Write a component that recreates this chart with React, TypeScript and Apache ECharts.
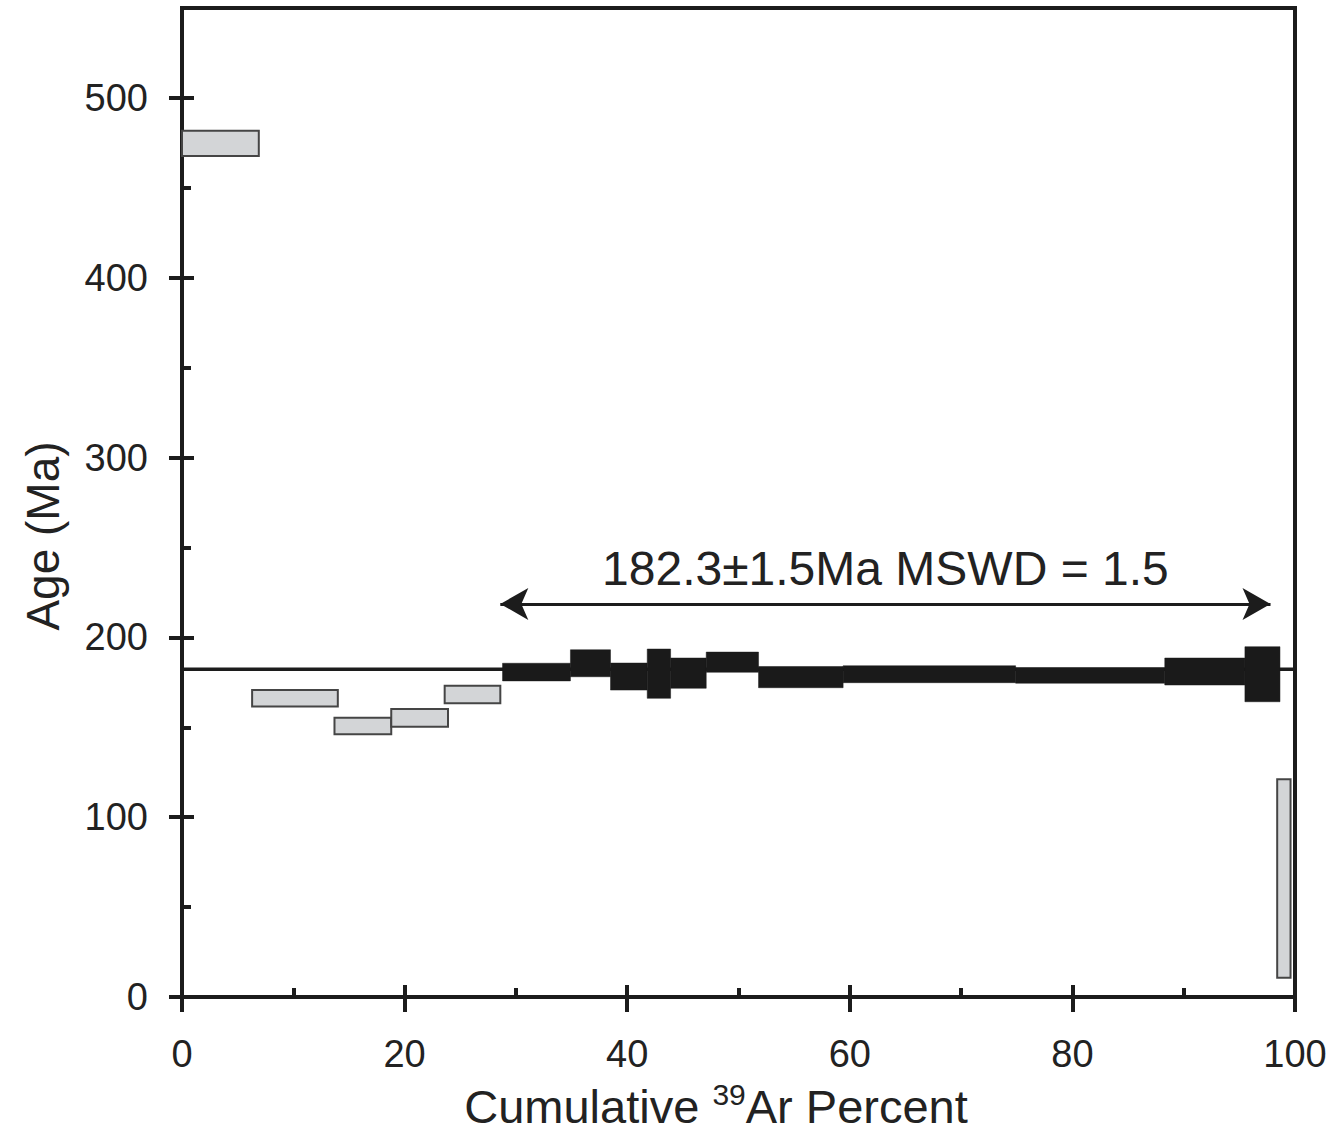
import React, { useEffect, useRef } from "react";
import * as echarts from "echarts";

// Step heating data (cumulative 39Ar %, age in Ma, half-height error)
const cumStart = [0, 6.3, 13.7, 18.8, 23.6, 28.8, 34.9, 38.5, 41.8, 43.9, 47.1, 51.8, 59.4, 74.9, 88.3, 95.5, 98.4];
const cumEnd = [6.9, 14.0, 18.8, 23.9, 28.6, 34.9, 38.5, 41.8, 43.9, 47.1, 51.8, 59.4, 74.9, 88.3, 95.5, 98.65, 99.6];
const ages = [474.7, 166.1, 150.7, 155.2, 168.2, 180.7, 185.6, 178.2, 179.8, 180.1, 186.2, 177.9, 179.5, 178.8, 181.0, 179.5, 65.9];
const errors = [7.0, 4.6, 4.6, 4.9, 4.9, 4.9, 7.5, 7.5, 13.7, 8.4, 5.6, 5.9, 4.7, 4.3, 7.5, 15.3, 55.2];
const inPlateau = [false, false, false, false, false, true, true, true, true, true, true, true, true, true, true, true, false];

const plateauAge = 182.3;
const arrowStart = 28.6;
const arrowEnd = 97.8;
const arrowAge = 218.6;
const plateauLabel = "182.3±1.5Ma MSWD = 1.5";

const yTicks = [0, 100, 200, 300, 400, 500];
const yMinorTicks = [50, 150, 250, 350, 450];
const xMax = 100;
const yMax = 550;

const FONT = "'Liberation Sans', Arial, Helvetica, sans-serif";
const INK = "#1c1c1c";

export default function App() {
  const ref = useRef<HTMLDivElement>(null);

  useEffect(() => {
    if (!ref.current) return;
    const chart = echarts.init(ref.current, undefined, { renderer: "svg" });

    const steps = cumStart.map((s, i) => [s, cumEnd[i], ages[i], errors[i]]);
    const grayData = steps.filter((_, i) => !inPlateau[i]);
    const blackData = steps.filter((_, i) => inPlateau[i]);

    const makeRender = (fill: string, stroke: string, lw: number) => (params: any, api: any) => {
      const x0 = api.value(0), x1 = api.value(1), age = api.value(2), err = api.value(3);
      const p0 = api.coord([x0, age + err]);
      const p1 = api.coord([x1, age - err]);
      return {
        type: "rect",
        shape: { x: p0[0], y: p0[1], width: p1[0] - p0[0], height: p1[1] - p0[1] },
        style: { fill, stroke, lineWidth: lw },
      };
    };

    const baseX = { type: "value", min: 0, max: xMax, interval: 20, position: "bottom", splitLine: { show: false } };
    const baseY = { type: "value", min: 0, max: yMax, position: "left", splitLine: { show: false } };

    chart.setOption({
      animation: false,
      backgroundColor: "#ffffff",
      grid: {
        left: 182,
        right: 35,
        top: 8,
        bottom: 136,
        show: true,
        borderColor: INK,
        borderWidth: 4,
      },
      xAxis: [
        {
          ...baseX,
          axisLine: { show: true, lineStyle: { color: INK, width: 4 } },
          axisTick: { show: true, inside: false, length: 15, lineStyle: { color: INK, width: 4 } },
          axisLabel: { show: true, fontSize: 38, fontFamily: FONT, color: "#222", margin: 38 },
        },
        {
          ...baseX,
          axisLine: { show: false },
          axisTick: { show: true, inside: true, length: 12, lineStyle: { color: INK, width: 4 } },
          minorTick: { show: true, splitNumber: 2, length: 9, lineStyle: { color: INK, width: 4 } },
          axisLabel: { show: false },
        },
      ],
      yAxis: [
        {
          ...baseY,
          axisLine: { show: true, lineStyle: { color: INK, width: 4 } },
          axisTick: { show: true, inside: false, length: 13, customValues: yTicks, lineStyle: { color: INK, width: 4 } },
          axisLabel: { show: true, customValues: yTicks, fontSize: 38, fontFamily: FONT, color: "#222", margin: 34 },
        },
        {
          ...baseY,
          axisLine: { show: false },
          axisTick: { show: true, inside: true, length: 12, customValues: yTicks, lineStyle: { color: INK, width: 4 } },
          axisLabel: { show: false },
        },
        {
          ...baseY,
          axisLine: { show: false },
          axisTick: { show: true, inside: true, length: 9, customValues: yMinorTicks, lineStyle: { color: INK, width: 4 } },
          axisLabel: { show: false },
        },
      ],
      graphic: [
        {
          type: "text",
          x: 43,
          y: 536,
          rotation: Math.PI / 2,
          style: {
            text: "Age (Ma)",
            fontSize: 46,
            fontFamily: FONT,
            fill: "#222",
            align: "center",
            verticalAlign: "middle",
          },
        },
        {
          type: "text",
          x: 716,
          y: 1106,
          style: {
            text: "{a|Cumulative }{s|39}{a|Ar Percent}",
            fill: "#222",
            align: "center",
            verticalAlign: "middle",
            rich: {
              a: { fontSize: 47, fontFamily: FONT, fill: "#222" },
              s: { fontSize: 30, fontFamily: FONT, fill: "#222", padding: [0, 0, 24, 0] },
            },
          },
        },
      ],
      series: [
        {
          type: "line",
          xAxisIndex: 0,
          yAxisIndex: 0,
          data: [[0, plateauAge], [xMax, plateauAge]],
          symbol: "none",
          silent: true,
          z: 1,
          lineStyle: { color: INK, width: 3.5 },
          markLine: {
            silent: true,
            symbol: ["arrow", "arrow"],
            symbolSize: [24, 28],
            lineStyle: { color: INK, width: 3, type: "solid" },
            label: {
              show: true,
              position: "middle",
              formatter: plateauLabel,
              fontSize: 48,
              fontFamily: FONT,
              color: "#222",
              distance: 11,
            },
            data: [[{ coord: [arrowStart, arrowAge] }, { coord: [arrowEnd, arrowAge] }]],
          },
        },
        {
          type: "custom",
          xAxisIndex: 0,
          yAxisIndex: 0,
          silent: true,
          z: 3,
          renderItem: makeRender("#d3d5d7", "#454545", 2),
          data: grayData,
        },
        {
          type: "custom",
          xAxisIndex: 0,
          yAxisIndex: 0,
          silent: true,
          z: 4,
          renderItem: makeRender("#1a1a1a", "#1a1a1a", 0.5),
          data: blackData,
        },
      ],
    });

    return () => chart.dispose();
  }, []);

  return (
    <div
      ref={ref}
      style={{ position: "fixed", left: 0, top: 0, width: 1330, height: 1133, background: "#fff" }}
    />
  );
}
